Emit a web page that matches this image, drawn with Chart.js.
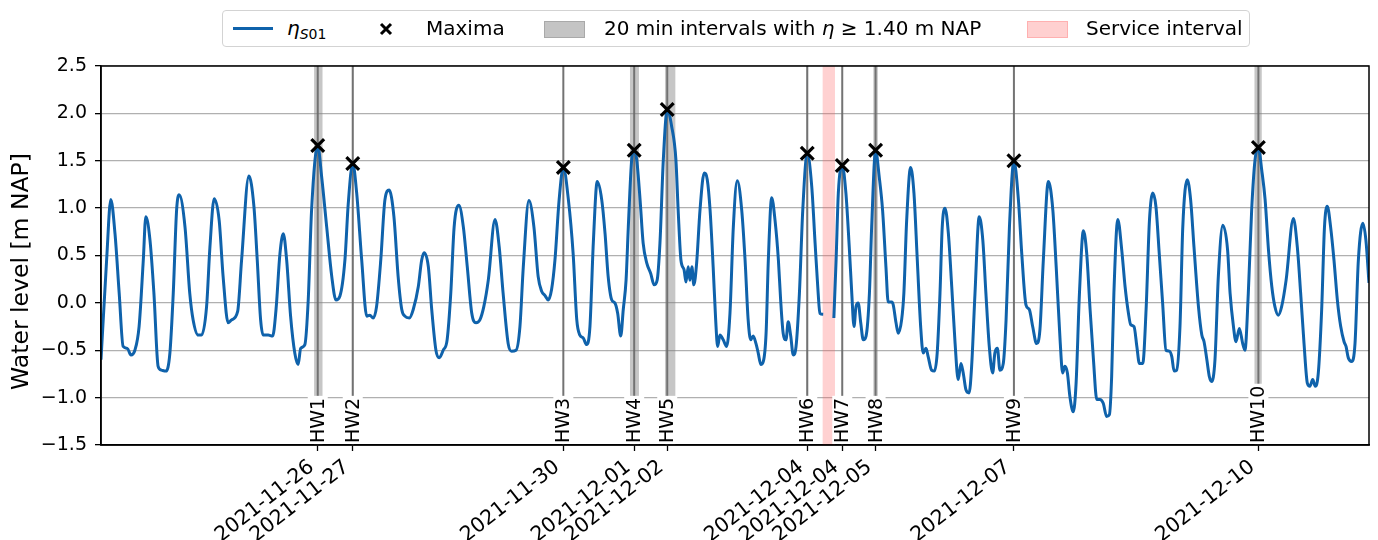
<!DOCTYPE html>
<html>
<head>
<meta charset="utf-8">
<title>Water level S01</title>
<script src="https://cdn.jsdelivr.net/npm/chart.js@4.4.1/dist/chart.umd.min.js"></script>
<style>
    html, body { margin: 0; padding: 0; background: #fff; }
    #wrap { position: relative; width: 1378px; height: 540px; font-family: "DejaVu Sans", sans-serif; color: #000; }
    #legend { position: absolute; left: 222px; top: 10px; width: 1026px; height: 35px; border: 1.5px solid #d3d3d3; border-radius: 4px; background: #fff; font-size: 20px; z-index: 2; }
    #legend .it { position: absolute; top: 0; height: 35px; line-height: 35px; white-space: nowrap; }
    #legend .swatch { position: absolute; }
    #legend sub { font-size: 14px; vertical-align: -4px; }
</style>
</head>
<body>
<div id="wrap">
    <div id="legend">
        <div class="swatch" style="left:10px; top:16px; width:40px; height:3px; background:#0f62ab;"></div>
        <div class="it" style="left:64px;"><i>η</i><sub><i>S</i>01</sub></div>
        <svg class="swatch" style="left:155px; top:10px;" width="16" height="16" viewBox="0 0 16 16">
            <path d="M3 3 L13 13 M13 3 L3 13" stroke="#000" stroke-width="3"/>
        </svg>
        <div class="it" style="left:203px;">Maxima</div>
        <div class="swatch" style="left:321px; top:10px; width:39px; height:15px; background:#c4c4c4; border:1px solid #a9a9a9;"></div>
        <div class="it" style="left:381px;">20 min intervals with <i>η</i> ≥ 1.40 m NAP</div>
        <div class="swatch" style="left:804px; top:10px; width:39px; height:15px; background:#ffd0d0; border:1px solid #ffb0b0;"></div>
        <div class="it" style="left:863px;">Service interval</div>
    </div>
    <canvas id="chart" width="1378" height="540"></canvas>
</div>
<script>
// time in hours since 2021-11-23 00:00, level in m NAP
const startDate = Date.UTC(2021, 10, 23);

const times = [
    16.4, 18.4, 19.9, 21.4, 22.9, 24.3, 25.8, 27.1, 28.5, 30.0, 31.5, 32.4, 33.9, 35.3, 36.8, 38.0, 39.6, 41.0,
    42.2, 43.4, 44.3, 46.4, 48.1, 49.3, 51.1, 52.3, 54.1, 55.3, 56.8, 58.6, 60.0, 61.8, 63.0, 65.2, 66.6, 69.2,
    71.0, 72.2, 73.4, 74.3, 76.1, 77.7, 78.9, 80.3, 81.5, 82.7, 84.1, 85.6, 86.8, 87.7, 89.2, 90.4, 91.6, 93.8,
    95.2, 97.0, 98.8, 100.3, 101.7, 103.5, 104.7, 106.3, 107.7, 109.5, 111.3, 112.4, 113.6, 114.8, 116.3, 117.8,
    119.3, 121.0, 122.5, 123.8, 124.9, 126.5, 127.9, 129.7, 130.9, 131.8, 133.3, 134.5, 136.0, 137.2, 138.6,
    140.0, 141.3, 142.5, 144.2, 145.8, 147.2, 148.8, 150.3, 151.7, 153.1, 154.7, 157.1, 158.6, 160.0, 161.8,
    163.0, 164.6, 166.0, 167.2, 169.2, 171.0, 172.5, 173.8, 174.9, 176.1, 177.3, 178.5, 180.0, 181.5, 183.3,
    185.0, 186.3, 187.4, 188.6, 189.8, 191.0, 192.2, 193.6, 195.2, 196.4, 197.5, 198.8, 199.9, 200.9, 202.0,
    202.9, 203.9, 204.7, 205.9, 206.8, 207.7, 208.9, 210.0, 211.3, 212.7, 213.9, 215.0, 216.0, 217.2, 218.6,
    220.2, 221.7, 222.5, 223.5, 224.6, 225.3, 226.1, 226.7, 227.4, 228.1, 229.1, 230.3, 231.8, 232.9, 233.9,
    235.0, 235.9, 236.6, 237.4, 238.6, 239.8, 241.0, 242.2, 243.6, 245.2, 246.4, 247.5, 248.4, 249.3, 250.3,
    251.1, 252.0, 252.9, 253.9, 254.7, 255.9, 257.1, 258.3, 259.1, 260.0, 261.0, 261.8, 262.7, 263.6, 264.6,
    265.8, 267.0, 268.6, 270.2, 271.4, 272.5, 273.1, 274.3, 276.3, 278.1, 278.9, 279.7, 281.1, 282.4, 283.6,
    284.5, 285.3, 286.0, 286.8, 287.7, 288.6, 289.6, 290.8, 291.6, 293.0, 294.3, 295.5, 296.7, 297.5, 298.8,
    299.3, 300.3, 301.1, 302.3, 303.1, 304.1, 305.5, 306.7, 307.9, 309.1, 310.0, 311.0, 311.8, 313.0, 314.0,
    315.0, 316.0, 316.8, 317.8, 319.0, 320.2, 321.4, 322.5, 323.5, 324.3, 325.3, 326.4, 327.3, 328.5, 330.0,
    331.3, 332.4, 333.6, 334.8, 335.6, 336.5, 337.4, 338.6, 339.6, 340.8, 342.4, 344.0, 345.2, 346.7, 347.9,
    349.1, 350.5, 351.7, 352.9, 354.7, 356.3, 357.5, 358.9, 359.8, 360.6, 361.5, 362.4, 363.6, 364.6, 365.8,
    367.2, 368.4, 369.6, 370.8, 372.0, 373.1, 374.3, 375.5, 376.5, 377.3, 378.1, 379.5, 380.9, 382.1, 383.3,
    384.1, 385.3, 386.3, 387.2, 388.4, 389.6, 390.8, 392.0, 393.1, 394.3, 395.5, 396.7, 397.9, 398.8, 399.6,
    400.5, 401.7, 402.7, 404.3, 405.5, 406.7, 408.3, 409.5, 410.3, 411.3, 412.2, 413.0, 414.2, 415.4, 417.0,
    418.7, 419.6, 420.8, 421.7, 422.9, 424.1, 424.9, 426.1, 427.3, 428.5, 429.7, 430.9, 432.1, 433.3, 434.5,
    435.6, 436.8, 438.0, 439.6, 442.2, 443.6, 444.8, 446.0, 447.2, 448.1, 449.1, 450.0, 451.1, 452.3, 453.3,
    454.3, 455.5, 456.7, 457.9, 459.1, 460.3, 461.0, 461.8, 463.0, 464.2, 465.4, 467.0, 468.1, 469.2
];

// null = no data during the service interval
const levels = [
    -0.60, 0.45, 1.09, 0.73, 0.10, -0.46, -0.48, -0.55, -0.50, -0.25, 0.45, 0.91, 0.66, 0.10, -0.67, -0.71, -0.72, -0.53,
    0.10, 0.98, 1.14, 0.80, 0.10, -0.18, -0.34, -0.34, -0.04, 0.59, 1.10, 0.87, 0.28, -0.21, -0.18, -0.09, 0.45, 1.34,
    1.02, 0.45, -0.18, -0.34, -0.34, -0.35, -0.07, 0.52, 0.73, 0.45, -0.14, -0.53, -0.65, -0.48, -0.44, 0.03, 0.98, 1.66,
    1.33, 0.80, 0.28, 0.03, 0.07, 0.45, 1.05, 1.47, 1.16, 0.45, -0.14, -0.13, -0.16, -0.04, 0.45, 1.09,
    1.19, 0.91, 0.28, -0.07, -0.14, -0.16, -0.07, 0.17, 0.45, 0.53, 0.38, -0.07, -0.50, -0.58, -0.50,
    -0.39, 0.10, 0.80, 1.03, 0.80, 0.38, -0.11, -0.21, -0.18, -0.04, 0.24, 0.88, 0.59, 0.10, -0.43,
    -0.51, -0.50, -0.25, 0.38, 1.08, 0.80, 0.28, 0.12, 0.08, 0.03, 0.14, 0.45, 1.09, 1.43, 1.09,
    0.52, -0.18, -0.34, -0.37, -0.44, -0.25, 0.63, 1.28, 1.09, 0.73, 0.28, 0.03, 0.00, -0.11, -0.35,
    -0.07, 0.24, 0.80, 1.51, 1.61, 1.51, 1.09, 0.63, 0.42, 0.31, 0.19, 0.24, 0.63, 1.51, 2.04,
    1.86, 1.51, 0.98, 0.45, 0.35, 0.22, 0.38, 0.24, 0.38, 0.19, 0.42, 0.98, 1.37, 1.30, 0.98,
    0.38, -0.18, -0.46, -0.34, -0.39, -0.46, -0.11, 0.80, 1.29, 0.98, 0.45, -0.18, -0.39, -0.35, -0.43,
    -0.53, -0.65, -0.62, -0.32, 0.45, 1.11, 0.87, 0.45, 0.03, -0.32, -0.39, -0.20, -0.35, -0.55, -0.46,
    0.10, 0.98, 1.58, 1.23, 0.63, 0.10, -0.11, -0.12, null, -0.16, 0.45, 1.16, 1.45, 1.16, 0.59,
    0.10, -0.25, -0.04, 0.00, -0.21, -0.39, -0.35, 0.10, 0.80, 1.61, 1.33, 0.98, 0.38, 0.01, 0.01,
    -0.02, -0.21, -0.32, -0.18, 0.10, 0.87, 1.43, 1.16, 0.45, -0.25, -0.53, -0.48, -0.57, -0.71, -0.72,
    -0.53, 0.10, 0.80, 1.00, 0.73, 0.17, -0.43, -0.81, -0.64, -0.74, -0.92, -0.95, -0.67, 0.10, 0.91,
    0.66, 0.10, -0.46, -0.74, -0.53, -0.48, -0.71, -0.64, -0.18, 0.80, 1.50, 1.09, 0.52, -0.02, -0.07,
    -0.25, -0.43, -0.28, 0.45, 1.28, 0.98, 0.38, -0.40, -0.74, -0.67, -0.74, -0.99, -1.15, -0.85, 0.10,
    0.76, 0.52, -0.07, -0.60, -1.02, -1.02, -1.06, -1.20, -1.18, -0.78, 0.10, 0.88, 0.56, 0.17, -0.11,
    -0.23, -0.25, -0.46, -0.64, -0.64, -0.07, 0.87, 1.16, 1.02, 0.52, 0.00, -0.50, -0.51, -0.57, -0.72,
    -0.71, -0.25, 0.80, 1.30, 1.09, 0.59, -0.04, -0.34, -0.41, -0.60, -0.78, -0.83, -0.60, 0.28, 0.82,
    0.56, 0.10, -0.25, -0.41, -0.27, -0.43, -0.50, 0.10, 0.98, 1.51, 1.64, 1.40, 1.09, 0.56, 0.17,
    -0.04, -0.13, -0.04, 0.24, 0.89, 0.59, 0.10, -0.43, -0.85, -0.88, -0.81, -0.88, -0.74, -0.07, 0.80,
    1.02, 0.80, 0.45, 0.03, -0.25, -0.41, -0.46, -0.58, -0.62, -0.43, 0.45, 0.84, 0.66, 0.21
];

// high water events
const hwNames = ['HW1', 'HW2', 'HW3', 'HW4', 'HW5', 'HW6', 'HW7', 'HW8', 'HW9', 'HW10'];
const hwTimes = [93.8, 106.3, 181.5, 206.8, 218.6, 268.6, 281.1, 293.0, 342.4, 429.7];
const hwLevels = [1.66, 1.47, 1.43, 1.61, 2.04, 1.58, 1.45, 1.61, 1.50, 1.64];

// 20 min intervals above 1.40 m NAP, merged per event
const hwBandStart = [92.5, 106.0, 181.3, 205.3, 217.8, 268.3, 280.9, 292.2, 342.2, 428.3];
const hwBandEnd = [95.5, 106.6, 181.7, 208.5, 221.5, 268.9, 281.3, 293.8, 342.6, 430.9];

const serviceStart = 274.1;
const serviceEnd = 278.5;

const xMin = 16.4;
const xMax = 469.2;
const yTitle = 'Water level [m NAP]';

function dateLabel(h) {
    return new Date(startDate + h * 3600 * 1000).toISOString().slice(0, 10);
}

const FONT = '"DejaVu Sans", sans-serif';

const eventPlugin = {
    id: 'events',
    beforeDatasetsDraw(chart) {
        const ctx = chart.ctx;
        const x = chart.scales.x;
        const area = chart.chartArea;
        ctx.save();
        ctx.beginPath();
        ctx.rect(area.left, area.top, area.right - area.left, area.bottom - area.top);
        ctx.clip();

        // service interval
        const s0 = x.getPixelForValue(serviceStart);
        const s1 = x.getPixelForValue(serviceEnd);
        ctx.fillStyle = 'rgba(255, 90, 90, 0.28)';
        ctx.fillRect(s0, area.top, s1 - s0, area.bottom - area.top);

        // exceedance bands + event lines
        hwTimes.forEach((t, i) => {
            const b0 = x.getPixelForValue(hwBandStart[i]);
            const b1 = x.getPixelForValue(hwBandEnd[i]);
            ctx.fillStyle = 'rgba(128, 128, 128, 0.45)';
            ctx.fillRect(b0, area.top, Math.max(b1 - b0, 1), area.bottom - area.top);

            const px = x.getPixelForValue(t);
            ctx.strokeStyle = 'rgba(105, 105, 105, 0.9)';
            ctx.lineWidth = 2;
            ctx.beginPath();
            ctx.moveTo(px, area.top);
            ctx.lineTo(px, area.bottom);
            ctx.stroke();
        });
        ctx.restore();
    },
    afterDatasetsDraw(chart) {
        const ctx = chart.ctx;
        const x = chart.scales.x;
        const area = chart.chartArea;

        // HW labels, rotated, with white box
        ctx.save();
        ctx.font = '19px ' + FONT;
        hwNames.forEach((name, i) => {
            const px = x.getPixelForValue(hwTimes[i]);
            const w = ctx.measureText(name).width;
            ctx.save();
            ctx.translate(px, area.bottom - 2);
            ctx.rotate(-Math.PI / 2);
            ctx.fillStyle = '#fff';
            ctx.fillRect(-1, -10, w + 3, 20);
            ctx.fillStyle = '#000';
            ctx.textAlign = 'left';
            ctx.textBaseline = 'middle';
            ctx.fillText(name, 0, 1);
            ctx.restore();
        });

        // frame
        ctx.strokeStyle = '#000';
        ctx.lineWidth = 1.5;
        ctx.strokeRect(area.left, area.top, area.right - area.left, area.bottom - area.top);

        // y axis title, sits a bit below the axis middle in the original
        ctx.font = '23.5px ' + FONT;
        ctx.fillStyle = '#000';
        ctx.translate(22, (area.top + area.bottom) / 2 + 16);
        ctx.rotate(-Math.PI / 2);
        ctx.textAlign = 'center';
        ctx.textBaseline = 'middle';
        ctx.fillText(yTitle, 0, 0);
        ctx.restore();
    }
};

const ctx = document.getElementById('chart');

new Chart(ctx, {
    data: {
        datasets: [
            {
                type: 'scatter',
                label: 'Maxima',
                data: hwTimes.map((t, i) => ({ x: t, y: hwLevels[i] })),
                pointStyle: 'crossRot',
                pointRadius: 9,
                borderColor: '#000',
                borderWidth: 3.2,
                order: 0
            },
            {
                type: 'line',
                label: 'eta S01',
                data: times.map((t, i) => ({ x: t, y: levels[i] })),
                borderColor: '#0f62ab',
                borderWidth: 3,
                pointRadius: 0,
                cubicInterpolationMode: 'monotone',
                spanGaps: false,
                order: 1
            }
        ]
    },
    options: {
        responsive: false,
        animation: false,
        devicePixelRatio: 1,
        layout: {
            autoPadding: false,
            padding: { left: 0, right: 9, top: 66, bottom: 0 }
        },
        plugins: {
            legend: { display: false },
            tooltip: { enabled: false }
        },
        scales: {
            x: {
                type: 'linear',
                min: xMin,
                max: xMax,
                afterBuildTicks: (scale) => {
                    scale.ticks = hwTimes.map(v => ({ value: v }));
                },
                afterFit: (scale) => {
                    scale.height = 95;
                    // labels are right aligned, no side padding needed
                    scale.paddingLeft = 0;
                    scale.paddingRight = 0;
                },
                ticks: {
                    autoSkip: false,
                    minRotation: 38,
                    maxRotation: 38,
                    padding: 4,
                    labelOffset: -6,
                    color: '#000',
                    font: { family: FONT, size: 20.5 },
                    callback: (v) => dateLabel(v)
                },
                grid: {
                    drawOnChartArea: false,
                    drawTicks: true,
                    tickLength: 6,
                    tickColor: '#000',
                    tickWidth: 1.3
                },
                border: { color: '#000', width: 1.5 }
            },
            y: {
                min: -1.5,
                max: 2.5,
                afterFit: (scale) => {
                    scale.width = 101;
                },
                ticks: {
                    stepSize: 0.5,
                    padding: 8,
                    color: '#000',
                    font: { family: FONT, size: 19 },
                    callback: (v) => v.toFixed(1).replace('-', '\u2212')
                },
                grid: {
                    color: '#b0b0b0',
                    lineWidth: 1.3,
                    tickColor: '#000',
                    tickLength: 6,
                    tickWidth: 1.3
                },
                border: { color: '#000', width: 1.5 }
            }
        }
    },
    plugins: [eventPlugin]
});
</script>
</body>
</html>
